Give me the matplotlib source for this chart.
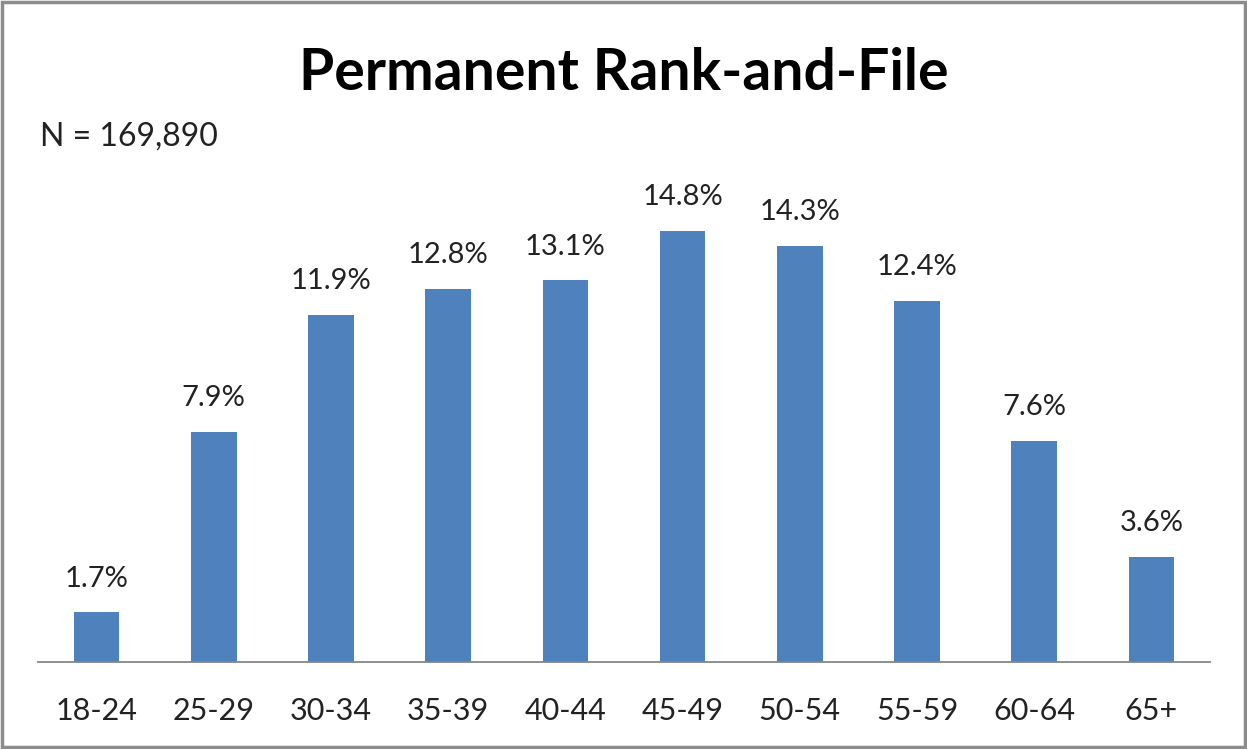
import matplotlib
matplotlib.use("Agg")
import matplotlib.pyplot as plt
from matplotlib.patches import Rectangle

categories = ["18-24", "25-29", "30-34", "35-39", "40-44", "45-49", "50-54", "55-59", "60-64", "65+"]
values = [1.7, 7.9, 11.9, 12.8, 13.1, 14.8, 14.3, 12.4, 7.6, 3.6]
title = "Permanent Rank-and-File"
note = "N = 169,890"

plt.rcParams['font.family'] = ['Lato', 'DejaVu Sans']

fig = plt.figure(figsize=(12.47, 7.49), dpi=100)
fig.patch.set_facecolor("white")
ax = fig.add_axes([38/1247, 87/749, 1172/1247, 482/749])

x = list(range(len(categories)))
ax.bar(x, values, width=0.39, color="#4F81BD", zorder=2)
for xi, v in zip(x, values):
    ax.text(xi, v + 0.72, f"{v:.1f}%", ha="center", va="bottom", fontsize=21, color="#222222")

ax.set_xlim(-0.5, len(categories) - 0.5)
ax.set_ylim(0, 16.55)
ax.set_xticks(x)
ax.set_xticklabels(categories, fontsize=22, color="#222222")
ax.tick_params(axis="x", length=0, pad=25)
ax.set_yticks([])
for s in ["top", "right", "left"]:
    ax.spines[s].set_visible(False)
ax.spines["bottom"].set_color("#868686")
ax.spines["bottom"].set_linewidth(1.3)

fig.text(0.5, 1 - 73/749, title, ha="center", va="center", fontsize=41, fontweight="bold", color="black")
fig.text(40/1247, 1 - 137/749, note, ha="left", va="center", fontsize=23, color="#222222")

fig.patches.append(Rectangle((2/1247, 2/749), 1243/1247, 745/749, transform=fig.transFigure,
                             fill=False, edgecolor="#8c8c8c", linewidth=2.5))

fig.savefig("out.png", dpi=100)
